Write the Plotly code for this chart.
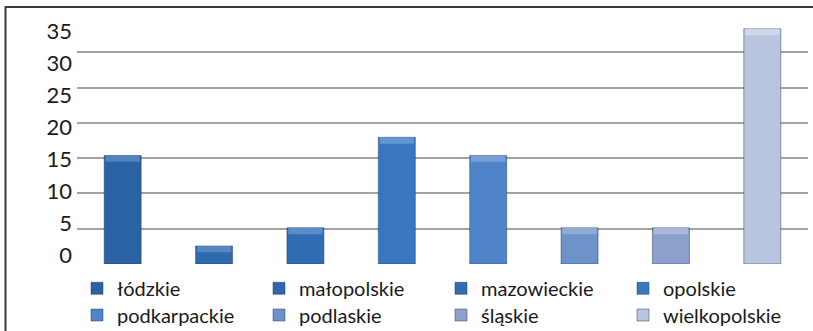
import plotly.graph_objects as go

# Share of entries per voivodeship (%)
regions = ["łódzkie", "małopolskie", "mazowieckie", "opolskie",
           "podkarpackie", "podlaskie", "śląskie", "wielkopolskie"]
shares = [15.38, 2.56, 5.13, 17.95, 15.38, 5.13, 5.13, 33.33]
colors = ["#2B62A4", "#2E68AD", "#316DB3", "#3876BF",
          "#4F85C8", "#6E93C9", "#8D9FCB", "#B9C4DE"]
caps = ["#5A88C2", "#5D8CC6", "#6092CC", "#6A9BD4",
        "#7FA3D6", "#97B0D8", "#B0BCDA", "#D3DAEB"]
y_ticks = [0, 5, 10, 15, 20, 25, 30, 35]

BAR_W = 0.405
CAP_H = 0.9
FONT = "Lato, 'Open Sans', sans-serif"

fig = go.Figure()
for i, (name, v, c) in enumerate(zip(regions, shares, colors)):
    fig.add_trace(go.Bar(
        x=[name], y=[v], name=name, width=BAR_W,
        legend="legend" if i < 4 else "legend2",
        marker=dict(color=c, line=dict(color="rgba(30,50,90,0.45)", width=1)),
        hoverinfo="x+y",
    ))
# lighter bevel strip on top of each column
for name, v, c in zip(regions, shares, caps):
    fig.add_trace(go.Bar(
        x=[name], y=[CAP_H], base=[v - CAP_H], width=BAR_W - 0.03,
        marker=dict(color=c, line=dict(width=0)), opacity=0.85,
        showlegend=False, hoverinfo="skip",
    ))

W, H = 813, 331
L, R, T, B = 77, 5, 17, 67
plot_h = H - T - B

# tick-label axis: label "0" sits at 255px, "35" at 31.7px
px_per = (255 - 31.7) / 35
lab_lo = 0 - ((H - B) - 255) / px_per
lab_hi = 35 + (31.7 - T) / px_per

def px_x(p):
    return (p - L) / (W - L - R)

def px_y(p):
    return ((H - B) - p) / plot_h

legend_style = dict(orientation="h", x=0, xanchor="left", yanchor="middle",
                    entrywidth=137, font=dict(size=20, color="#1a1a1a"),
                    traceorder="normal", itemclick=False,
                    bgcolor="rgba(0,0,0,0)")

fig.update_layout(
    width=W, height=H,
    margin=dict(l=L, r=R, t=T, b=B, autoexpand=False),
    paper_bgcolor="white", plot_bgcolor="white",
    barmode="overlay",
    font=dict(family=FONT, color="#222222"),
    xaxis=dict(categoryorder="array", categoryarray=regions,
               showticklabels=False, showgrid=False, zeroline=False,
               showline=False, ticks=""),
    yaxis=dict(range=[0, 35], tickvals=y_ticks[:-1], showticklabels=False,
               showgrid=True, gridcolor="#A3A3A3", gridwidth=1.5,
               zeroline=False, showline=False, ticks=""),
    yaxis2=dict(overlaying="y", side="left", range=[lab_lo, lab_hi],
                tickvals=y_ticks, showgrid=False, zeroline=False,
                showline=False, ticks="", ticklabelstandoff=4,
                tickfont=dict(size=22, color="#1a1a1a")),
    legend=dict(legend_style, y=px_y(288.3)),
    legend2=dict(legend_style, y=px_y(315)),
    showlegend=True,
    shapes=[dict(type="rect", xref="paper", yref="paper",
                 x0=px_x(5.5), x1=px_x(830), y0=px_y(345), y1=px_y(7),
                 line=dict(color="#3a3a3a", width=2), fillcolor="rgba(0,0,0,0)",
                 layer="above")],
)
# invisible anchor so the label axis is rendered
fig.add_trace(go.Scatter(x=[regions[0]], y=[0], yaxis="y2", mode="markers",
                         marker=dict(opacity=0), showlegend=False, hoverinfo="skip"))

fig.write_html("out.html")
